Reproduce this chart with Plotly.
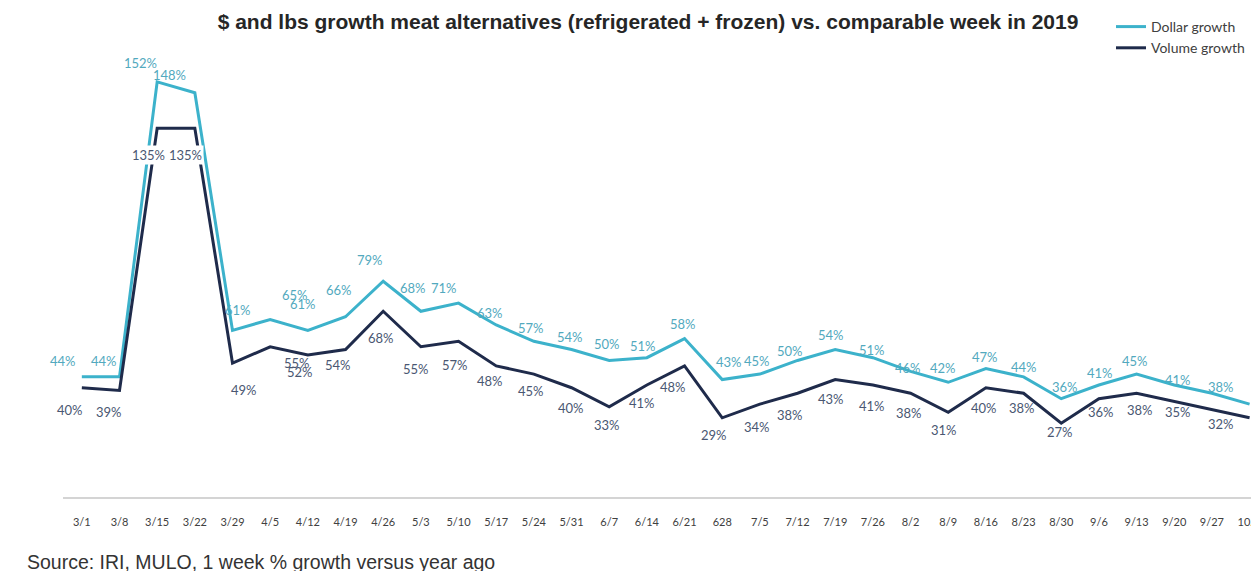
import plotly.graph_objects as go

# ---------------- data ----------------
weeks = ["3/1", "3/8", "3/15", "3/22", "3/29", "4/5", "4/12", "4/19", "4/26", "5/3",
         "5/10", "5/17", "5/24", "5/31", "6/7", "6/14", "6/21", "628", "7/5", "7/12",
         "7/19", "7/26", "8/2", "8/9", "8/16", "8/23", "8/30", "9/6", "9/13", "9/20",
         "9/27", "10/4"]
dollar_growth = [44, 44, 152, 148, 61, 65, 61, 66, 79, 68,
                 71, 63, 57, 54, 50, 51, 58, 43, 45, 50,
                 54, 51, 46, 42, 47, 44, 36, 41, 45, 41,
                 38, 34]
volume_growth = [40, 39, 135, 135, 49, 55, 52, 54, 68, 55,
                 57, 48, 45, 40, 33, 41, 48, 29, 34, 38,
                 43, 41, 38, 31, 40, 38, 27, 36, 38, 35,
                 32, 29]
labelled = [True] * 31 + [False]   # last week's labels fall outside the picture

title_text = "$ and lbs growth meat alternatives (refrigerated + frozen) vs. comparable week in 2019"
source_text = "Source: IRI, MULO, 1 week % growth versus year ago"

# ---------------- label placement (pixel offsets: dx right, dy down) ----------------
dollar_off = [(-19, -16), (-16, -16), (-17, -19), (-25, -18), (5, -20), (25, -24), (-5, -26),
              (-7, -27), (-13, -21), (-8, -23), (-15, -15), (-6, -12), (-3, -13), (-2, -13),
              (-2, -16), (-4, -12), (-2, -15), (7, -18), (-3, -13), (-8, -9), (-4, -15),
              (-1, -8), (-3, -3), (-5, -14), (-1, -12), (0, -10), (4, -12), (1, -12),
              (-2, -13), (4, -5), (9, -6), (0, -14)]
volume_off = [(-12, 22), (-11, 22), (-9, 27), (-9, 27), (11, 27), (27, 16), (-8, 17),
              (-8, 15), (-2, 27), (-5, 22), (-4, 24), (-6, 15), (-3, 17), (-1, 20),
              (-2, 18), (-5, 18), (-12, 21), (-8, 17), (-3, 23), (-8, 22), (-4, 19),
              (-1, 21), (-2, 20), (-4, 18), (-2, 20), (-2, 15), (-1, 9), (2, 13),
              (3, 17), (4, 11), (9, 14), (0, 18)]
boxed_volume_labels = {"3/15", "3/22"}   # these labels sit on a white box over the lines

DOLLAR_LINE = "#3CB2CB"
VOLUME_LINE = "#1F2B4B"
DOLLAR_TXT = "#52A9BE"
VOLUME_TXT = "#4A5772"
LABEL_FONT = "Lato, Open Sans, sans-serif"

# The page body has an 8px margin; the figure is sized/positioned to compensate.
W, H = 1251, 563
ML, MR, MT, MB = 55, 0, 52, 74
PW, PH = W - ML - MR, H - MT - MB

fig = go.Figure()
fig.add_trace(go.Scatter(x=weeks, y=dollar_growth, mode="lines", name="Dollar growth",
                         line=dict(color=DOLLAR_LINE, width=3)))
fig.add_trace(go.Scatter(x=weeks, y=volume_growth, mode="lines", name="Volume growth",
                         line=dict(color=VOLUME_LINE, width=3)))

annotations = []
# annotations on a category axis are placed by category index (so "628" is not read as a number)
for i, (v, (dx, dy), show) in enumerate(zip(dollar_growth, dollar_off, labelled)):
    if show:
        annotations.append(dict(x=i, y=v, xref="x", yref="y", text=f"{v}%", showarrow=False,
                                xshift=dx, yshift=-dy,
                                font=dict(family=LABEL_FONT, size=13, color=DOLLAR_TXT)))
for i, (w, v, (dx, dy), show) in enumerate(zip(weeks, volume_growth, volume_off, labelled)):
    if show:
        ann = dict(x=i, y=v, xref="x", yref="y", text=f"{v}%", showarrow=False,
                   xshift=dx, yshift=-dy,
                   font=dict(family=LABEL_FONT, size=13, color=VOLUME_TXT))
        if w in boxed_volume_labels:
            ann["bgcolor"] = "white"
        annotations.append(ann)

annotations.append(dict(text=source_text, xref="paper", yref="paper",
                        x=(17 - ML) / PW, y=(MT + PH - 554) / PH, xanchor="left", yanchor="middle",
                        showarrow=False,
                        font=dict(family="Liberation Sans, Arial, sans-serif", size=19.5, color="#333333")))

fig.update_layout(
    width=W, height=H,
    margin=dict(l=ML, r=MR, t=MT, b=MB, autoexpand=False),
    paper_bgcolor="white", plot_bgcolor="white",
    title=dict(text=title_text, xref="container", yref="container",
               x=640 / W, xanchor="center", y=1 - 14 / H, yanchor="middle",
               font=dict(family="Liberation Sans, Arial, sans-serif", size=21, color="#262626", weight="bold")),
    showlegend=True,
    legend=dict(xref="paper", yref="paper", x=(1103 - ML) / PW, y=1 + (MT - 3) / PH,
                xanchor="left", yanchor="top", bgcolor="rgba(0,0,0,0)", itemwidth=30,
                tracegroupgap=0,
                font=dict(family=LABEL_FONT, size=14, color="#404040")),
    xaxis=dict(type="category", categoryorder="array", categoryarray=weeks,
               range=[-0.5, 31.25], showgrid=False, zeroline=False,
               showline=True, linecolor="#D4D4D4", linewidth=2,
               ticks="outside", ticklen=14, tickcolor="rgba(0,0,0,0)",
               tickfont=dict(family=LABEL_FONT, size=11, color="#404040")),
    yaxis=dict(range=[0, 160], visible=False, showgrid=False, zeroline=False),
    annotations=annotations,
    shapes=[
        dict(type="line", xref="paper", yref="paper", x0=(1246 - ML) / PW, x1=(1246 - ML) / PW,
             y0=-MB / PH, y1=1 + MT / PH, line=dict(color="#E2E2E2", width=1)),
    ],
)

fig.write_html("out.html")
